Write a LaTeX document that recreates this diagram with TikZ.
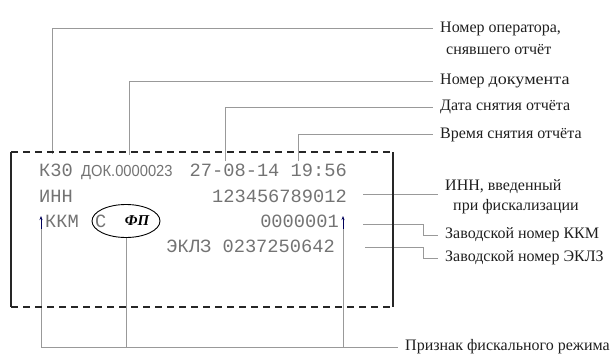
\documentclass[tikz,border=0pt]{standalone}
\usepackage{fontspec}
\setmainfont{Liberation Serif}
\newfontfamily\rmono{Liberation Mono}
\newfontfamily\rsans[FakeStretch=0.92]{Liberation Sans}
\newfontfamily\rwide[FakeStretch=1.13]{Liberation Serif}
\usetikzlibrary{shapes.geometric,arrows.meta}
\begin{document}
\begin{tikzpicture}[x=1pt,y=-1pt,
  lead/.style={draw=black!40, line width=0.7pt},
  boxline/.style={draw=black!85, line width=1.3pt},
  rcpt/.style={font=\rmono\fontsize{18.7}{20}\selectfont, text=black!55, inner sep=0pt},
  rsf/.style={font=\rsans\fontsize{16}{17}\selectfont, text=black!55, inner sep=0pt},
  uparrow/.style={draw=blue!35!black, line width=0.7pt, -{Stealth[length=4pt,width=3pt]}},
  lbl/.style={font=\fontsize{16}{18}\selectfont, text=black!88, inner xsep=7pt, inner ysep=0pt, anchor=west}]
\useasboundingbox (0,0) rectangle (615,356);

% labels
\node[lbl] (op) at (433,28.6) {Номер оператора,};
\node[lbl] (op2) at (439,50) {снявшего отчёт};
\node[lbl] (doc) at (433,81) {Номер {\rwide документа}};
\node[lbl] (date) at (433,107) {Дата снятия отчёта};
\node[lbl] (time) at (433,134.5) {Время снятия отчёта};
\node[lbl] (inn1) at (438,187) {ИНН, введенный};
\node[lbl] (inn2) at (446,207) {при фискализации};
\node[lbl] (kkml) at (438,235) {Заводской номер ККМ};
\node[lbl] (eklzl) at (438,258) {Заводской номер ЭКЛЗ};
\node[lbl] (pr) at (398,347) {Признак фискального режима};

% receipt text
\node[rcpt, anchor=base west] (k30) at (39,176) {К30};
\node[rsf, anchor=base west] (dok) at (81,176) {ДОК.0000023};
\node[rcpt, anchor=base east] (dt) at (347,176) {27-08-14 19:56};
\node[rcpt, anchor=base west] (innt) at (39,202) {ИНН};
\node[rcpt, anchor=base east] (innn) at (347,202) {123456789012};
\node[rcpt, anchor=base west] (kkm) at (45,227) {ККМ};
\node[rcpt, anchor=base west] (cc) at (95,227) {С};
\node[draw=black, line width=0.9pt, ellipse, minimum width=68pt, minimum height=33pt, inner sep=0pt] (ell) at (126,221) {};
\node[font=\bfseries\itshape\fontsize{15}{16}\selectfont, inner sep=0pt] (fp) at (137,221) {ФП};
\node[rcpt, anchor=base east] (ser) at (339,227) {0000001};
\node[rcpt, anchor=base east] (ek) at (335,252) {ЭКЛЗ 0237250642};

% fiscal-mode arrows
\coordinate (aLb) at (41,229);
\coordinate (aLt) at (41,216);
\coordinate (aRb) at (343,229);
\coordinate (aRt) at (343,216);
\draw[uparrow] (aLb) -- (aLt);
\draw[uparrow] (aRb) -- (aRt);

% leaders top
\coordinate (t1) at (52,154);
\coordinate (t2) at (129,155);
\coordinate (t3) at (225,161);
\coordinate (t4) at (298,161);
\draw[lead] (t1) |- (op.west);
\draw[lead] (t2) |- (doc.west);
\draw[lead] (t3) |- (date.west);
\draw[lead] (t4) |- (time.west);

% leaders right
\coordinate (r5) at (363,194);
\coordinate (r6) at (363,224);
\coordinate (r7) at (365,247);
\draw[lead] (r5) -- (r5 -| inn1.west);
\draw[lead] (r6) -- (423,224) |- (kkml.west);
\draw[lead] (r7) -- (423,247) |- (eklzl.west);

% leaders bottom
\draw[lead] (aLb) -- (aLb |- pr.west) -- (pr.west);
\draw[lead] (ell.south) -- (ell.south |- pr.west);
\draw[lead] (aRb) -- (aRb |- pr.west);

% receipt box
\coordinate (b1) at (11,152);
\coordinate (b2) at (393,152);
\coordinate (b3) at (393,307);
\coordinate (b4) at (11,307);
\draw[boxline] (b1) -- (b4);
\draw[boxline] (b2) -- (b3);
\draw[boxline, dash pattern=on 7pt off 5pt] (b1) -- (b2);
\draw[boxline, dash pattern=on 7pt off 5pt] (b4) -- (b3);
\end{tikzpicture}
\end{document}
